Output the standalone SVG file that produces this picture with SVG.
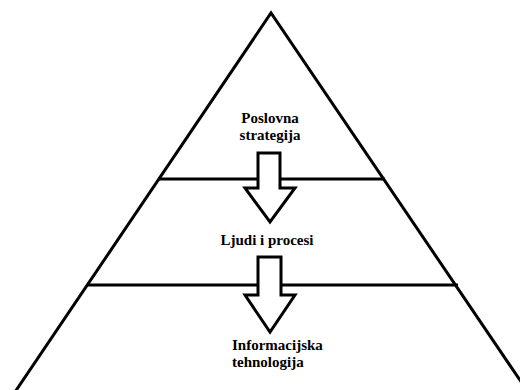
<svg xmlns="http://www.w3.org/2000/svg" width="520" height="390" viewBox="0 0 520 390">
<style>
.ln{fill:none;stroke:#000;stroke-width:3;stroke-linejoin:miter}
.ar{fill:#fff;stroke:#000;stroke-width:3;stroke-linejoin:miter}
.t{font-family:"Liberation Serif","Times New Roman",serif;font-weight:bold;font-size:15px;fill:#000}
</style>
<rect width="520" height="390" fill="#fff"/>
<g id="pyramid">
<polyline class="ln" points="15,392 271,13 528,392"/>
<line class="ln" x1="159" y1="179" x2="385" y2="179"/>
<line class="ln" x1="87" y1="285" x2="458" y2="285"/>
</g>
<g id="connectors">
<polygon class="ar" points="258,153 280,153 280,188 295,188 270,222 245,188 258,188"/>
<polygon class="ar" points="258,257 281,257 281,295 295,295 270,332 245,295 258,295"/>
</g>
<g id="node-strategija">
<text class="t" x="270" y="123" text-anchor="middle">Poslovna</text>
<text class="t" x="270" y="140" text-anchor="middle">strategija</text>
</g>
<g id="node-ljudi">
<text class="t" x="267" y="245" text-anchor="middle">Ljudi i procesi</text>
</g>
<g id="node-it">
<text class="t" x="232" y="350">Informacijska</text>
<text class="t" x="232" y="367">tehnologija</text>
</g>
</svg>
